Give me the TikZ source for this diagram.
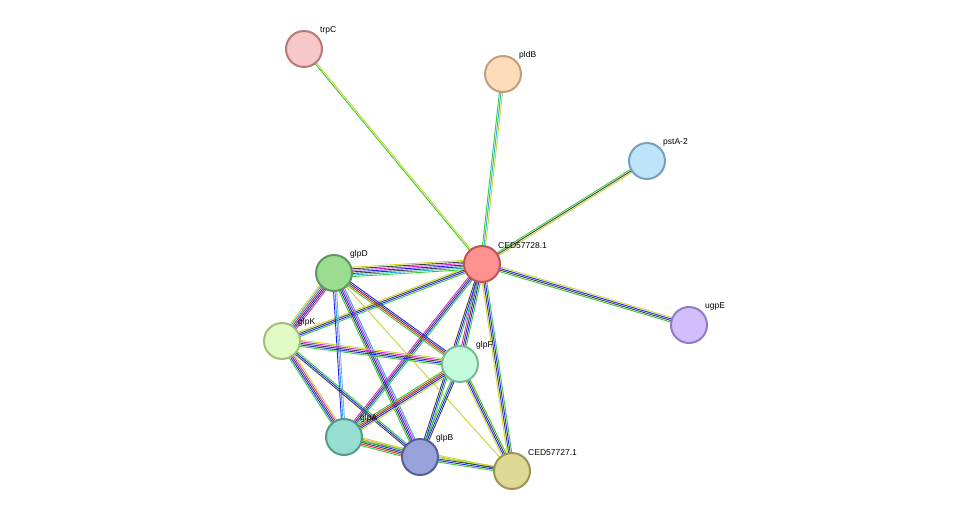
\documentclass[tikz,border=0pt]{standalone}
\usepackage{fontspec}
\setmainfont{Liberation Sans}
\usetikzlibrary{calc}
\definecolor{eg}{HTML}{33CC33}\definecolor{ey}{HTML}{C8D42C}\definecolor{ek}{HTML}{404040}
\definecolor{eb}{HTML}{2222FF}\definecolor{em}{HTML}{D62AD6}\definecolor{ec}{HTML}{22B0D8}
\definecolor{er}{HTML}{F02222}\definecolor{el}{HTML}{9999FF}
\newcommand{\medge}[3]{%
  \foreach \c [count=\i] in {#3} {\xdef\nn{\i}}%
  \foreach \c [count=\i] in {#3} {
    \pgfmathsetmacro{\o}{(\i-(\nn+1)/2)*1.55}
    \draw[\c, line width=0.9pt] ($(#1)!\o pt!90:(#2)$) -- ($(#2)!\o pt!-90:(#1)$);
  }}
\tikzset{prot/.style={circle, minimum size=36pt, line width=2pt, inner sep=0pt},
  lab/.style={font=\fontsize{8.5}{10}\selectfont, anchor=south west, inner sep=1pt}}
\begin{document}
\begin{tikzpicture}[x=1pt,y=-1pt]
\useasboundingbox (0,0) rectangle (975,517);
\coordinate (trpC) at (304,49);
\coordinate (pldB) at (503,74);
\coordinate (pstA) at (647,161);
\coordinate (C28) at (482,264);
\coordinate (ugpE) at (689,325);
\coordinate (glpD) at (334,273);
\coordinate (glpK) at (282,341);
\coordinate (glpF) at (460,364);
\coordinate (glpA) at (344,437);
\coordinate (glpB) at (420,457);
\coordinate (C27) at (512,471);
\medge{trpC}{C28}{eg,ey}
\medge{pldB}{C28}{eg,ec,ey}
\medge{pstA}{C28}{eg,ek,ey}
\medge{ugpE}{C28}{ey,eb,ek,eg}
\medge{glpD}{C28}{eg,ec,ek,eb,em,ek,ey}
\medge{glpK}{C28}{eg,eb,ek,ey}
\medge{glpF}{C28}{eg,eb,ek,em}
\medge{glpA}{C28}{eg,eb,ek,em}
\medge{glpB}{C28}{eg,eb,ek}
\medge{C27}{C28}{eg,eb,ek,ey}
\medge{glpD}{glpK}{ey,ec,er,eb,ek,em}
\medge{glpD}{glpF}{eg,er,ek,eb}
\medge{glpD}{glpA}{eb,ec,el}
\medge{glpD}{glpB}{eg,ek,eb,em,ec}
\medge{glpD}{C27}{ey}
\medge{glpK}{glpF}{eg,eb,ek,em,ey}
\medge{glpK}{glpA}{eg,eb,ek,em,ey}
\medge{glpK}{glpB}{ek,eb,eg}
\medge{glpF}{glpA}{eg,er,ek,eb,ey}
\medge{glpF}{glpB}{eg,eb,ek}
\medge{glpF}{C27}{ey,eb,ek,eg}
\medge{glpA}{glpB}{eg,er,ek,eb,em,ey}
\medge{glpA}{C27}{eg,ey}
\medge{glpB}{C27}{eg,eb,ek,ey}
\node[prot, fill={rgb,255:red,247;green,200;blue,200}, draw={rgb,255:red,185;green,120;blue,120}] (n1) at (trpC) {};
\node[prot, fill={rgb,255:red,253;green,220;blue,186}, draw={rgb,255:red,190;green,160;blue,125}] (n2) at (pldB) {};
\node[prot, fill={rgb,255:red,190;green,228;blue,250}, draw={rgb,255:red,120;green,160;blue,190}] (n3) at (pstA) {};
\node[prot, fill={rgb,255:red,255;green,145;blue,145}, draw={rgb,255:red,190;green,85;blue,85}] (n4) at (C28) {};
\node[prot, fill={rgb,255:red,210;green,190;blue,252}, draw={rgb,255:red,145;green,125;blue,195}] (n5) at (ugpE) {};
\node[prot, fill={rgb,255:red,155;green,220;blue,145}, draw={rgb,255:red,95;green,150;blue,90}] (n6) at (glpD) {};
\node[prot, fill={rgb,255:red,225;green,252;blue,195}, draw={rgb,255:red,160;green,190;blue,125}] (n7) at (glpK) {};
\node[prot, fill={rgb,255:red,195;green,250;blue,220}, draw={rgb,255:red,125;green,185;blue,150}] (n8) at (glpF) {};
\node[prot, fill={rgb,255:red,150;green,222;blue,210}, draw={rgb,255:red,85;green,155;blue,140}] (n9) at (glpA) {};
\node[prot, fill={rgb,255:red,152;green,162;blue,218}, draw={rgb,255:red,85;green,95;blue,155}] (n10) at (glpB) {};
\node[prot, fill={rgb,255:red,222;green,218;blue,150}, draw={rgb,255:red,155;green,150;blue,85}] (n11) at (C27) {};
\node[lab] at (319,35) {trpC};
\node[lab] at (518,60) {pldB};
\node[lab] at (662,147) {pstA-2};
\node[lab] at (497,250) {CED57728.1};
\node[lab] at (704,311) {ugpE};
\node[lab] at (349,259) {glpD};
\node[lab] at (297,327) {glpK};
\node[lab] at (475,350) {glpF};
\node[lab] at (359,423) {glpA};
\node[lab] at (435,443) {glpB};
\node[lab] at (527,457) {CED57727.1};
\end{tikzpicture}
\end{document}
